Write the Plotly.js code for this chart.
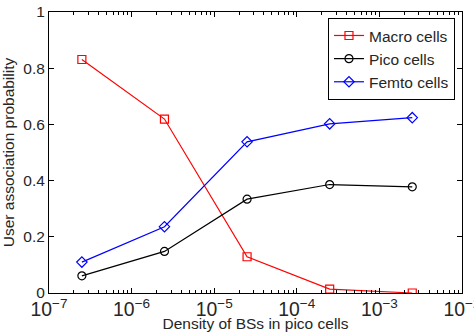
<!DOCTYPE html>
<html>
<head>
<meta charset="utf-8">
<script src="https://cdn.plot.ly/plotly-3.0.1.min.js"></script>
<style>html,body{margin:0;padding:0;background:#fff;}#chart{width:474px;height:332px;}</style>
</head>
<body>
<div id="chart"></div>
<script>
const density = [2.5e-7, 2.5e-6, 2.5e-5, 2.5e-4, 2.5e-3];
const macroCells = [0.831, 0.619, 0.129, 0.014, 0.0];
const picoCells = [0.061, 0.148, 0.334, 0.386, 0.378];
const femtoCells = [0.110, 0.236, 0.538, 0.602, 0.624];
const seriesNames = ['Macro cells', 'Pico cells', 'Femto cells'];
const yTicks = [0, 0.2, 0.4, 0.6, 0.8, 1];
const yTickText = ['0', '0.2', '0.4', '0.6', '0.8', '1'];

const FONT = '"Liberation Sans", Arial, sans-serif';
const TXT = '#262626';
function tr(y, name, color, symbol) {
  return {
    x: density, y: y, name: name, type: 'scatter', mode: 'lines+markers',
    line: {color: color, width: 1.2},
    marker: {symbol: symbol, size: 8, color: color, line: {color: color, width: 1.2}}
  };
}
const data = [
  tr(macroCells, seriesNames[0], '#ff0000', 'square-open'),
  tr(picoCells, seriesNames[1], '#000000', 'circle-open'),
  tr(femtoCells, seriesNames[2], '#0000ff', 'diamond-open')
];
const layout = {
  width: 474, height: 332,
  margin: {l: 49, r: 12, t: 12, b: 39},
  paper_bgcolor: '#fff', plot_bgcolor: '#fff',
  font: {family: FONT, size: 15.5, color: TXT},
  showlegend: true,
  legend: {x: 0.983, y: 0.979, xanchor: 'right', yanchor: 'top',
    bgcolor: '#fff', bordercolor: '#000', borderwidth: 1,
    font: {family: FONT, size: 15.5, color: TXT}, tracegroupgap: 0},
  xaxis: {
    type: 'log', range: [-7, -2], dtick: 1, exponentformat: 'power',
    ticklabeloverflow: 'allow',
    showgrid: false, zeroline: false, showline: true, linecolor: '#000', linewidth: 1,
    mirror: 'ticks', ticks: 'inside', ticklen: 5, tickcolor: '#000',
    minor: {ticks: 'inside', ticklen: 3, tickcolor: '#000', showgrid: false},
    tickfont: {family: FONT, size: 15.5, color: TXT},
    title: {text: 'Density of BSs in pico cells', font: {family: FONT, size: 15.5, color: TXT}, standoff: 0}
  },
  yaxis: {
    range: [0, 1], tickvals: yTicks, ticktext: yTickText,
    showgrid: false, zeroline: false, showline: true, linecolor: '#000', linewidth: 1,
    mirror: 'ticks', ticks: 'inside', ticklen: 5, tickcolor: '#000',
    tickfont: {family: FONT, size: 15.5, color: TXT},
    title: {text: 'User association probability', font: {family: FONT, size: 15.5, color: TXT}, standoff: 4}
  }
};
Plotly.newPlot('chart', data, layout, {displayModeBar: false, staticPlot: true});
</script>
</body>
</html>
